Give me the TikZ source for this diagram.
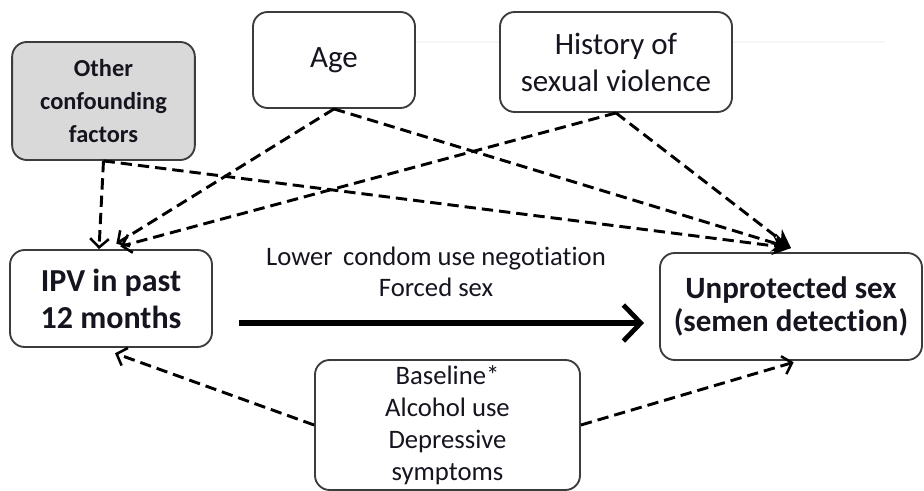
\documentclass[tikz,border=0pt]{standalone}
\usepackage{fontspec}
\setmainfont{Carlito}[Ligatures=NoCommon]
\usetikzlibrary{arrows.meta}
\definecolor{edge}{RGB}{60,60,60}
\definecolor{shade}{RGB}{217,217,217}
\definecolor{ink}{RGB}{22,20,30}
\tikzset{
  var/.style={rectangle, rounded corners=11pt, draw=edge, line width=1.4pt, fill=white,
              align=center, text=ink, inner sep=2pt},
  big/.style={font=\fontsize{23.25pt}{27.75pt}\selectfont},
  small/.style={font=\fontsize{20pt}{24pt}\selectfont},
  % dashed paths between variables
  dsh/.style={line width=2.2pt, dash pattern=on 8.5pt off 4.5pt,
              -{Straight Barb[length=6.5pt,width=14pt,line width=1.9pt]}},
  dsf/.style={line width=2.2pt, dash pattern=on 8.5pt off 4.5pt,
              -{Stealth[length=14pt,width=14pt]}},
  main/.style={line width=3.8pt, -{Straight Barb[length=13pt,width=27pt,line width=3.6pt]}}
}
\begin{document}
\begin{tikzpicture}[x=0.75pt,y=-0.75pt]
  \useasboundingbox (0,0) rectangle (924,491);
  \draw[gray!7, line width=1pt] (400,42) -- (885,42);

  % ---- confounders ----
  \node[var, fill=shade, minimum width=137pt, minimum height=88.5pt,
        font=\bfseries\fontsize{18.3pt}{24.4pt}\selectfont] (other) at (103.5,101)
        {Other\\confounding\\factors};
  \node[var, big, minimum width=121.5pt, minimum height=72pt] (age) at (334,60) {Age};
  \node[var, big, minimum width=174pt, minimum height=75pt] (hist) at (616,62)
        {History of\\sexual violence};

  % ---- exposure / outcome ----
  \node[var, minimum width=151.5pt, minimum height=72.75pt,
        font=\bfseries\fontsize{24pt}{27.75pt}\selectfont] (ipv) at (111,298.5)
        {IPV in past\\12 months};
  \node[var, minimum width=196.5pt, minimum height=80.25pt,
        font=\bfseries\fontsize{23.25pt}{24.75pt}\selectfont] (unp) at (791,306.5)
        {Unprotected sex\\(semen detection)};
  \node[var, small, minimum width=198.75pt, minimum height=97.5pt] (base) at (447.5,425)
        {Baseline*\\Alcohol use\\Depressive\\symptoms};

  \node[small, text=ink, align=center, font=\fontsize{20pt}{23.25pt}\selectfont] (mech) at (436,272)
        {Lower\, condom use negotiation\\Forced sex};

  \draw[main] ([xshift=19.5pt,yshift=-18.4pt]ipv.east) -- ([xshift=-11.25pt,yshift=-12.4pt]unp.west);

  \draw[dsh] (other.south) -- ([xshift=-9pt]ipv.north);
  \draw[dsh] (age.south) -- ([xshift=4pt,yshift=4pt]ipv.north);
  \draw[dsh] (hist.south) -- ([xshift=7pt,yshift=2pt]ipv.north);
  \draw[dsf] (other.south) -- ([yshift=3pt]unp.north);
  \draw[dsf] (age.south) -- ([yshift=3pt]unp.north);
  \draw[dsf] (hist.south) -- ([yshift=3pt]unp.north);

  \draw[dsh] (base.west) -- ([xshift=3pt,yshift=-4pt]ipv.south);
  \draw[dsh] (base.east) -- ([xshift=2pt,yshift=-1pt]unp.south);
\end{tikzpicture}
\end{document}
